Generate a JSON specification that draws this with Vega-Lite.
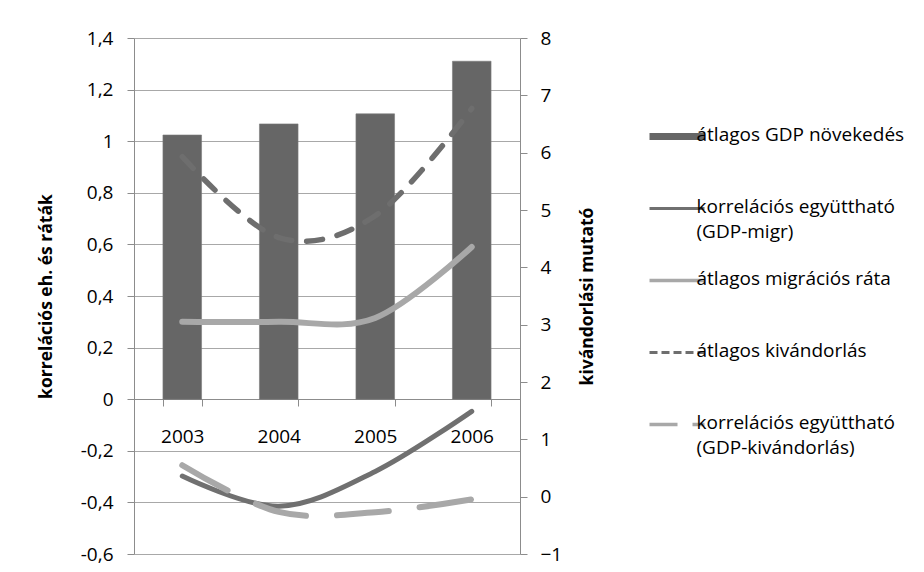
{
  "$schema": "https://vega.github.io/schema/vega-lite/v6.json",
  "width": 386,
  "height": 516,
  "autosize": {"type": "none"},
  "padding": {"left": 134, "top": 38, "right": 404, "bottom": 18},
  "background": "white",
  "config": {
    "font": "Open Sans",
    "view": {"stroke": null},
    "axis": {
      "labelFont": "Open Sans",
      "titleFont": "Open Sans",
      "labelFontSize": 19,
      "titleFontSize": 17.5,
      "labelColor": "#000000",
      "titleColor": "#000000",
      "domainColor": "#8c8c8c",
      "tickColor": "#8c8c8c",
      "gridColor": "#a8a8a8",
      "tickSize": 7
    }
  },
  "data": {
    "values": [
      {"year": "2003", "series": "átlagos GDP növekedés", "value": 1.024},
      {"year": "2004", "series": "átlagos GDP növekedés", "value": 1.067},
      {"year": "2005", "series": "átlagos GDP növekedés", "value": 1.106},
      {"year": "2006", "series": "átlagos GDP növekedés", "value": 1.31},
      {"year": "2003", "series": "korrelációs együttható (GDP-migr)", "value": -0.298},
      {"year": "2004", "series": "korrelációs együttható (GDP-migr)", "value": -0.415},
      {"year": "2005", "series": "korrelációs együttható (GDP-migr)", "value": -0.28},
      {"year": "2006", "series": "korrelációs együttható (GDP-migr)", "value": -0.047},
      {"year": "2003", "series": "átlagos migrációs ráta", "value": 0.3},
      {"year": "2004", "series": "átlagos migrációs ráta", "value": 0.3},
      {"year": "2005", "series": "átlagos migrációs ráta", "value": 0.315},
      {"year": "2006", "series": "átlagos migrációs ráta", "value": 0.59},
      {"year": "2003", "series": "átlagos kivándorlás", "value": 5.93},
      {"year": "2004", "series": "átlagos kivándorlás", "value": 4.52},
      {"year": "2005", "series": "átlagos kivándorlás", "value": 4.9},
      {"year": "2006", "series": "átlagos kivándorlás", "value": 6.77},
      {"year": "2003", "series": "korrelációs együttható (GDP-kivándorlás)", "value": -0.256},
      {"year": "2004", "series": "korrelációs együttható (GDP-kivándorlás)", "value": -0.437},
      {"year": "2005", "series": "korrelációs együttható (GDP-kivándorlás)", "value": -0.438},
      {"year": "2006", "series": "korrelációs együttható (GDP-kivándorlás)", "value": -0.388}
    ]
  },
  "encoding": {
    "x": {
      "field": "year",
      "type": "ordinal",
      "scale": {"paddingInner": 0.6, "paddingOuter": 0.3},
      "axis": {
        "title": null,
        "labelAngle": 0,
        "offset": -155,
        "tickBand": "extent",
        "labelPadding": 21.5,
        "grid": false
      }
    },
    "color": {
      "field": "series",
      "type": "nominal",
      "scale": {
        "domain": ["átlagos GDP növekedés", "korrelációs együttható (GDP-migr)", "átlagos migrációs ráta", "átlagos kivándorlás", "korrelációs együttható (GDP-kivándorlás)"],
        "range": ["#666666", "#707070", "#a8a8a8", "#6e6e6e", "#a8a8a8"]
      },
      "legend": {
        "orient": "none",
        "legendX": 533.5,
        "legendY": 89,
        "title": null,
        "padding": 0,
        "symbolType": "stroke",
        "symbolSize": 3025,
        "labelFont": "Open Sans",
        "labelFontSize": 19,
        "labelColor": "#000000",
        "labelLimit": 0,
        "labelOffset": 10,
        "labelBaseline": "top",
        "rowPadding": 28,
        "labelExpr": "indexof(datum.label, ' (') > 0 ? [slice(datum.label, 0, indexof(datum.label, ' (')), slice(datum.label, indexof(datum.label, ' (') + 1)] : [datum.label, '']",
        "encode": {
          "labels": {
            "enter": {"lineHeight": {"value": 25}},
            "update": {"dy": {"value": -10.5}, "lineHeight": {"value": 25}}
          },
          "symbols": {
            "update": {
              "shape": {"signal": "datum.value === 'átlagos GDP növekedés' ? 'M-1,-0.13H1V0.13H-1Z' : 'stroke'"},
              "fill": {"signal": "datum.value === 'átlagos GDP növekedés' ? '#666666' : 'transparent'"},
              "stroke": {"signal": "datum.value === 'átlagos GDP növekedés' ? 'transparent' : (datum.value === 'átlagos migrációs ráta' || datum.value === 'korrelációs együttható (GDP-kivándorlás)') ? '#a8a8a8' : '#707070'"},
              "strokeWidth": {"signal": "datum.value === 'átlagos GDP növekedés' ? 0 : (datum.value === 'átlagos migrációs ráta' || datum.value === 'korrelációs együttható (GDP-kivándorlás)') ? 3.5 : 3"},
              "strokeDash": {"signal": "datum.value === 'átlagos kivándorlás' ? [8, 4] : datum.value === 'korrelációs együttható (GDP-kivándorlás)' ? [28, 15] : [1, 0]"},
              "opacity": {"value": 1}
            }
          }
        }
      }
    }
  },
  "layer": [
    {
      "encoding": {
        "y": {
          "field": "value",
          "type": "quantitative",
          "scale": {"domain": [-0.6, 1.4], "nice": false, "zero": false},
          "axis": {
            "orient": "left",
            "title": "korrelációs eh. és ráták",
            "titleFontWeight": "bold",
            "titlePadding": 25,
            "values": [-0.6, -0.4, -0.2, 0, 0.2, 0.4, 0.6, 0.8, 1, 1.2, 1.4],
            "labelExpr": "replace(toString(datum.value), '.', ',')",
            "labelPadding": 14,
            "grid": true
          }
        }
      },
      "layer": [
        {
          "transform": [{"filter": "datum.series === 'átlagos GDP növekedés'"}],
          "mark": {"type": "bar", "stroke": "#7a7a7a", "strokeWidth": 0.6}
        },
        {
          "transform": [{"filter": "datum.series === 'korrelációs együttható (GDP-migr)'"}],
          "mark": {"type": "line", "interpolate": "cardinal", "tension": 0, "strokeWidth": 5, "strokeCap": "round"}
        },
        {
          "transform": [{"filter": "datum.series === 'átlagos migrációs ráta'"}],
          "mark": {"type": "line", "interpolate": "cardinal", "tension": 0, "strokeWidth": 6, "strokeCap": "round"}
        },
        {
          "transform": [{"filter": "datum.series === 'korrelációs együttható (GDP-kivándorlás)'"}],
          "mark": {"type": "line", "interpolate": "cardinal", "tension": 0, "strokeWidth": 6, "strokeCap": "round", "strokeDash": [52, 31]}
        }
      ]
    },
    {
      "encoding": {
        "y": {
          "field": "value",
          "type": "quantitative",
          "scale": {"domain": [-1, 8], "nice": false, "zero": false},
          "axis": {
            "orient": "right",
            "title": "kivándorlási mutató",
            "titleFontWeight": "bold",
            "titleAngle": 270,
            "titlePadding": 35,
            "values": [-1, 0, 1, 2, 3, 4, 5, 6, 7, 8],
            "labelPadding": 13,
            "grid": false
          }
        }
      },
      "layer": [
        {
          "transform": [{"filter": "datum.series === 'átlagos kivándorlás'"}],
          "mark": {"type": "line", "interpolate": "cardinal", "tension": 0, "strokeWidth": 5.5, "strokeCap": "round", "strokeDash": [16, 15]}
        }
      ]
    }
  ],
  "resolve": {"scale": {"y": "independent"}}
}
